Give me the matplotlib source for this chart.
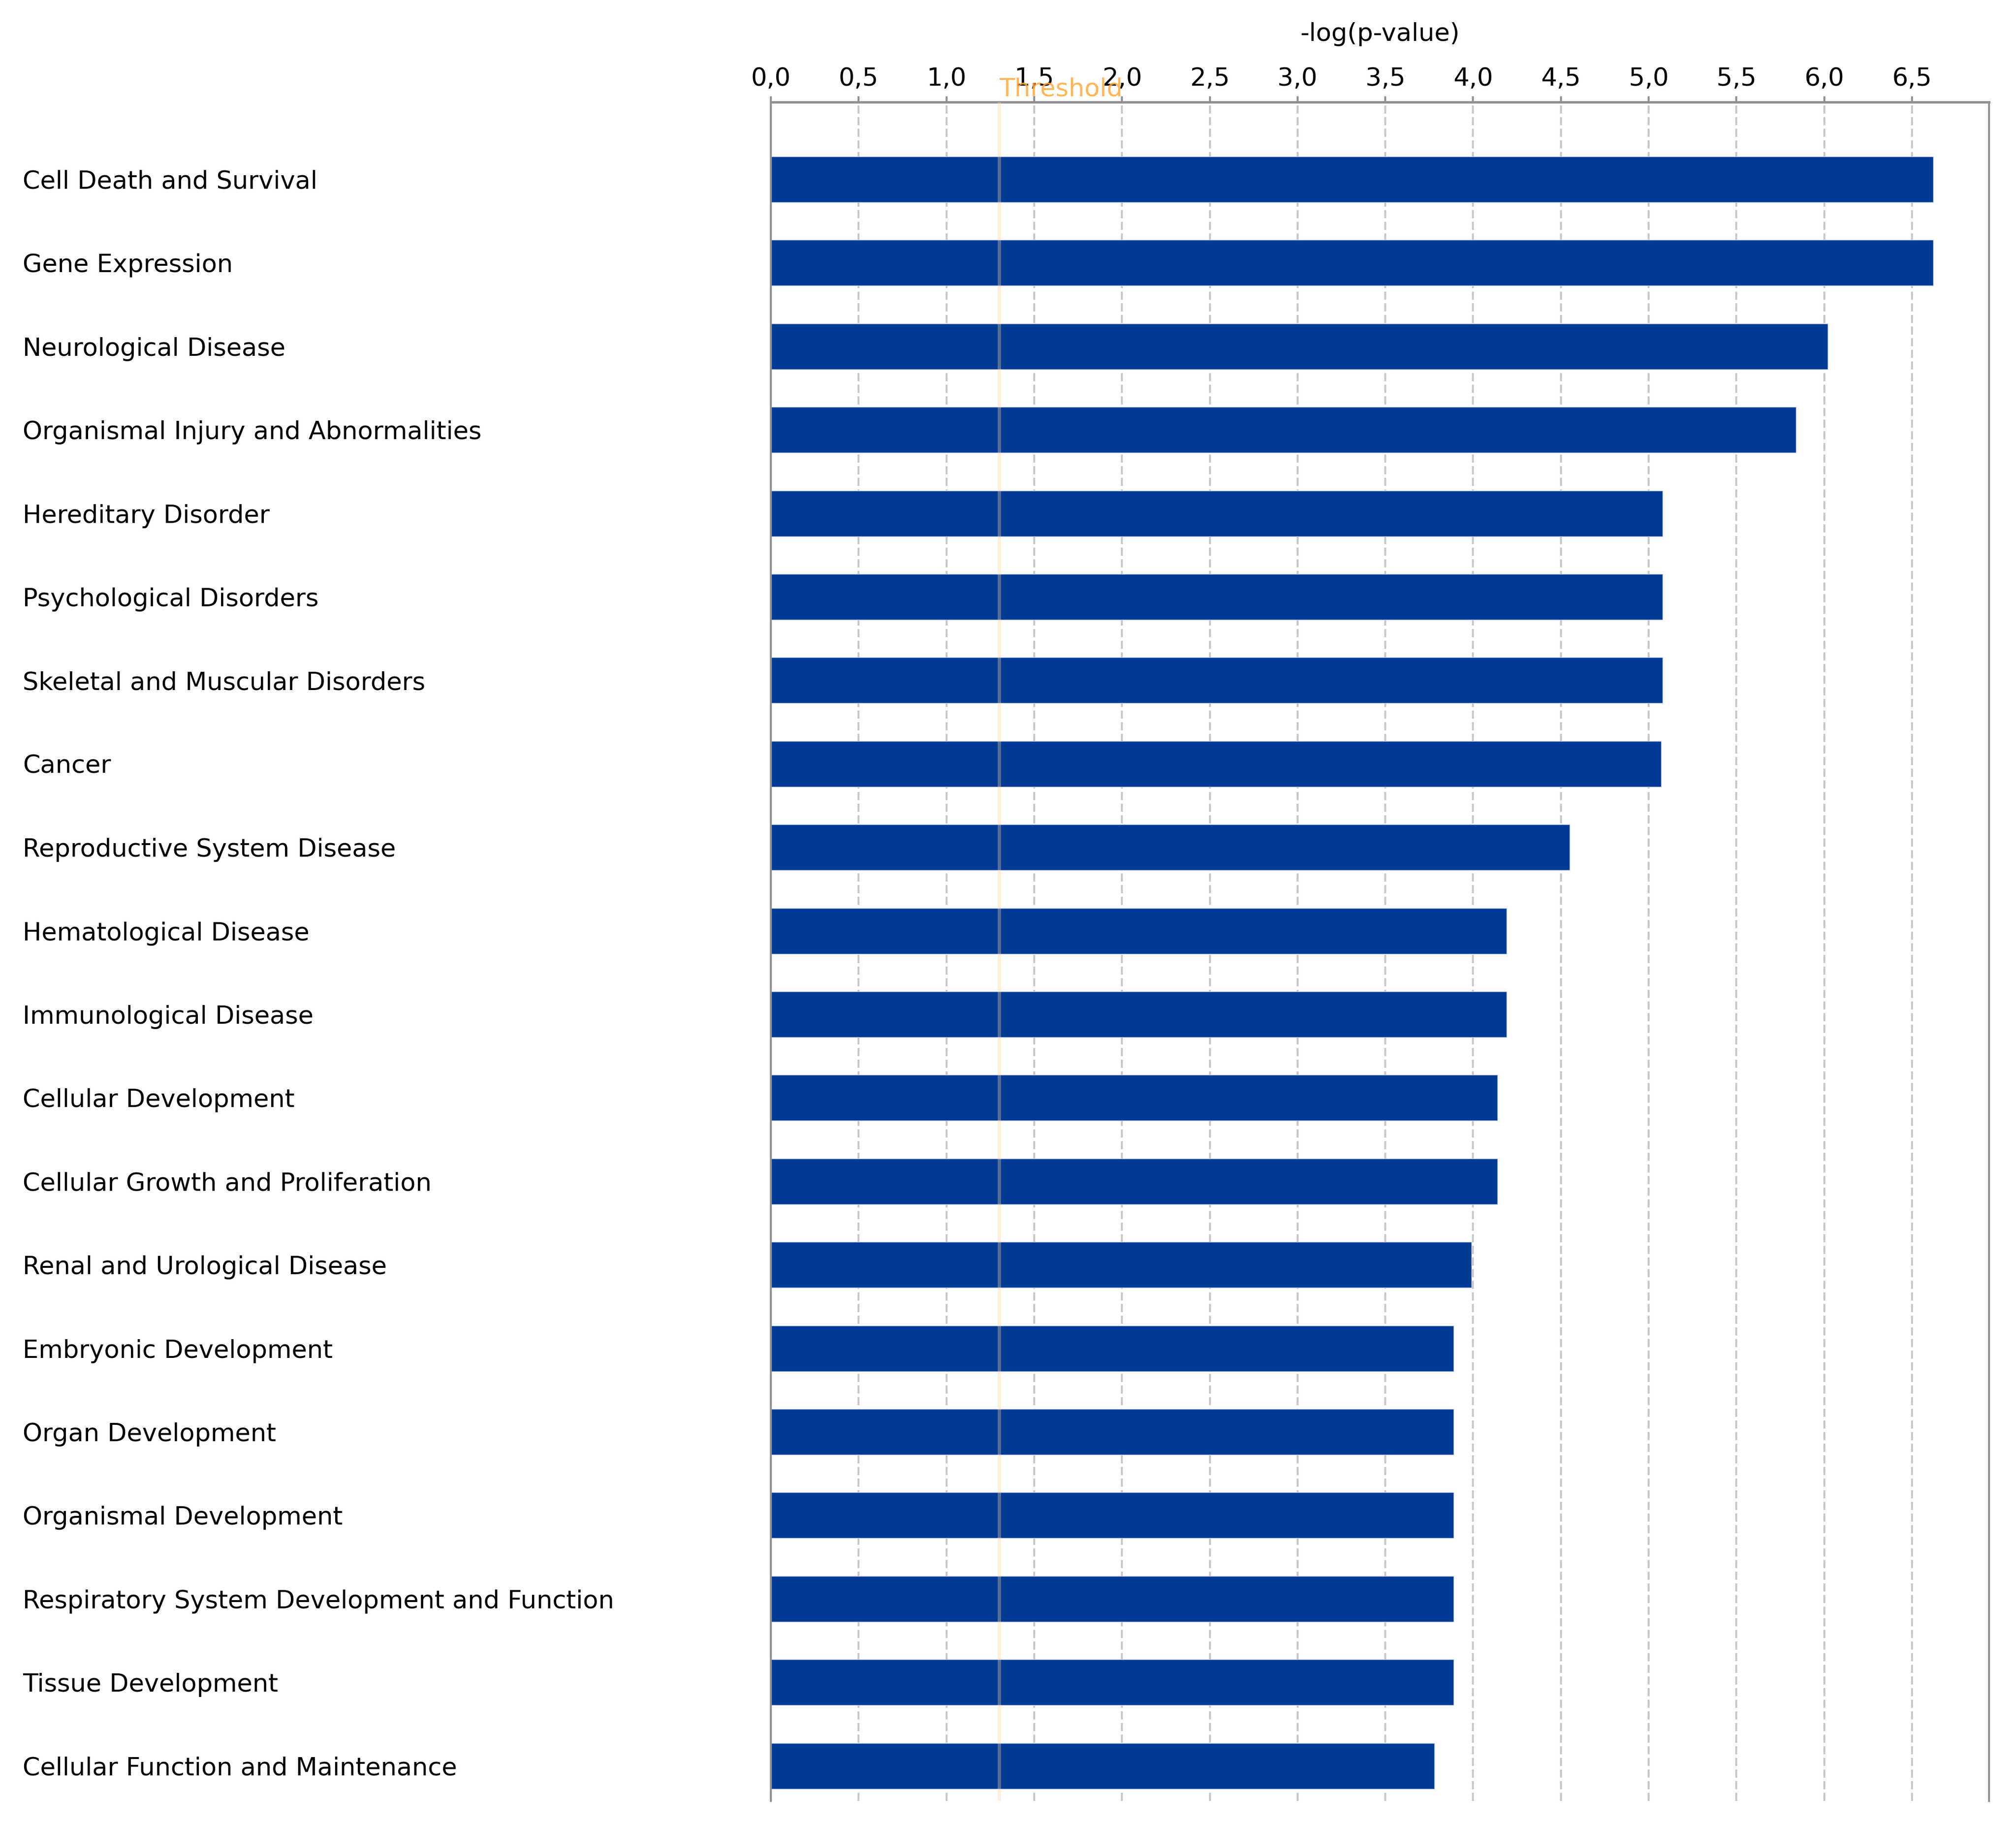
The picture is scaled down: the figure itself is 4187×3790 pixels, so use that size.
import matplotlib
matplotlib.use('Agg')
import matplotlib.pyplot as plt
from matplotlib.ticker import FuncFormatter, MultipleLocator

# -- Data
categories = [
    'Cell Death and Survival', 'Gene Expression', 'Neurological Disease',
    'Organismal Injury and Abnormalities', 'Hereditary Disorder',
    'Psychological Disorders', 'Skeletal and Muscular Disorders', 'Cancer',
    'Reproductive System Disease', 'Hematological Disease',
    'Immunological Disease', 'Cellular Development',
    'Cellular Growth and Proliferation', 'Renal and Urological Disease',
    'Embryonic Development', 'Organ Development', 'Organismal Development',
    'Respiratory System Development and Function', 'Tissue Development',
    'Cellular Function and Maintenance',
]
neg_log_p = [6.62, 6.62, 6.02, 5.84, 5.08, 5.08, 5.08, 5.07, 4.55, 4.19,
             4.19, 4.14, 4.14, 3.99, 3.89, 3.89, 3.89, 3.89, 3.89, 3.78]
threshold = 1.30

# -- Style settings
bar_color = '#003A94'
grid_color = '#C8C8C8'
spine_color = '#909097'
thr_line_color = '#FFD49F'
thr_text_color = '#FFAA3A'
fsize = 37.5

fig = plt.figure(figsize=(41.87, 37.90), dpi=100)
ax = fig.add_axes([0.3824, 0.0132, 0.6043, 0.9309])

ypos = list(range(len(categories)))
ax.barh(ypos, neg_log_p, height=0.548, color=bar_color,
        edgecolor='#C2CDE6', linewidth=1.0, zorder=2)
ax.axvline(threshold, color=thr_line_color, alpha=0.34, linewidth=5, zorder=3)

ax.set_xlim(0, 6.94)
ax.set_ylim(19.42, -0.926)

# x axis on top with comma decimals
ax.xaxis.set_major_locator(MultipleLocator(0.5))
ax.xaxis.set_major_formatter(FuncFormatter(lambda v, p: f'{v:.1f}'.replace('.', ',')))
ax.xaxis.tick_top()
ax.xaxis.set_label_position('top')
ax.set_xlabel('-log(p-value)', fontsize=fsize, labelpad=39)
ax.tick_params(axis='x', which='major', length=8.6, width=2.9, color=spine_color,
               labelsize=fsize, pad=7.5)
ax.grid(axis='x', color=grid_color, linestyle=(0, (4.2, 1.8)), linewidth=2.9)
ax.set_axisbelow(True)

# y labels left aligned near the figure edge
ax.set_yticks(ypos)
ax.set_yticklabels(categories, fontsize=fsize)
ax.tick_params(axis='y', length=0, pad=1119)
for lab in ax.get_yticklabels():
    lab.set_horizontalalignment('left')

# spines
ax.spines['top'].set_color(spine_color)
ax.spines['top'].set_linewidth(3.6)
for side in ['left', 'right']:
    ax.spines[side].set_color(spine_color)
    ax.spines[side].set_linewidth(3.0)
ax.spines['bottom'].set_visible(False)

# threshold label, just above the top spine
ax.annotate('Threshold', xy=(threshold, 1), xycoords=('data', 'axes fraction'),
            xytext=(0, 8.6), textcoords='offset points',
            color=thr_text_color, alpha=0.85, fontsize=fsize,
            ha='left', va='baseline', zorder=5, annotation_clip=False)

plt.savefig('out.png', dpi=100)
